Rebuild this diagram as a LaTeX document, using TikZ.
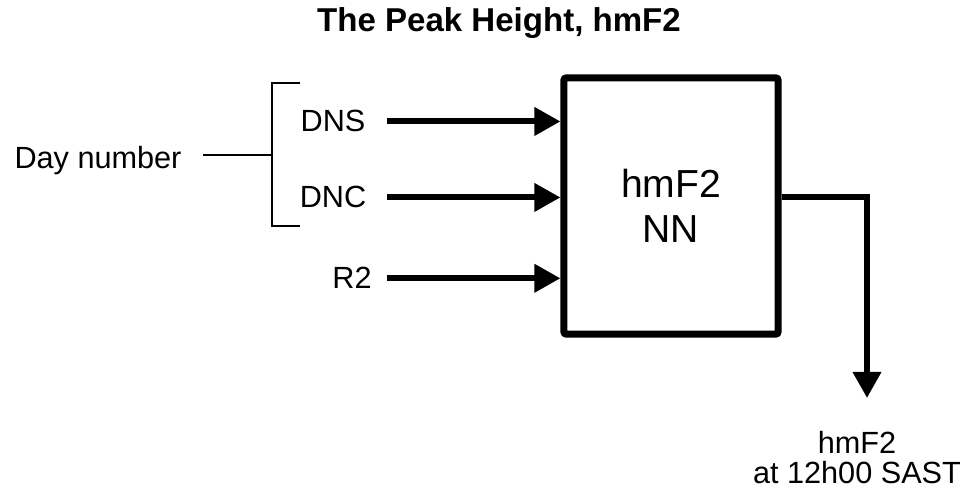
\documentclass[tikz,border=0pt]{standalone}
\usepackage{fontspec}
\setmainfont{Liberation Sans}
\usepackage{tikz}
\usetikzlibrary{arrows.meta,positioning,calc}
\tikzset{
  bloque/.style={rectangle, draw=black, line width=5pt,
                 minimum width=5.35cm, minimum height=6.4cm,
                 align=center, inner sep=0pt, rounded corners=1.5pt,
                 font=\fontsize{27.8}{32}\selectfont},
  etiqueta/.style={inner sep=0pt, align=center,
                   font=\fontsize{21.8}{21.5}\selectfont},
  titulo/.style={inner sep=0pt, font=\bfseries\fontsize{23.5}{28}\selectfont},
  flecha/.style={-{Triangle[length=0.65cm, width=0.68cm]}, line width=4.3pt},
  llave/.style={line width=1pt}
}

\begin{document}
\begin{tikzpicture}[x=0.025cm, y=-0.025cm]
  \useasboundingbox (0,0) rectangle (963,492);
  \node[titulo, anchor=base] (tit) at (499,32) {The Peak Height, hmF2};
  \node[bloque] (nn) at (671,206) {hmF2\\NN};

  \node[etiqueta, anchor=base] (dns) at (333,132) {DNS};
  \node[etiqueta, anchor=base] (dnc) at (333,208) {DNC};
  \node[etiqueta, anchor=base] (r2) at (352,289) {R2};
  \node[etiqueta, anchor=base] (dia) at (98,169) {Day number};
  \node[etiqueta, anchor=north] (sal) at (857,431) {hmF2\\at 12h00 SAST};

  \coordinate (inicio) at (387,0);
  \coordinate (llsup) at (300,83);
  \coordinate (llinf) at (300,226);
  \coordinate (llmed) at (272,155);
  \coordinate (punta) at (867,398);

  % entradas
  \draw[flecha] (inicio |- dns) -- (nn.west |- dns);
  \draw[flecha] (inicio |- dnc) -- (nn.west |- dnc);
  \draw[flecha] (inicio |- r2) -- (nn.west |- r2);
  % llave del numero de dia
  \draw[llave] (llsup) -| (llmed) |- (llinf);
  \draw[llave] ($(dia.east |- llmed)+(21,0)$) -- (llmed);
  % salida
  \draw[flecha] (nn.east |- dnc) -| (punta);
\end{tikzpicture}
\end{document}
